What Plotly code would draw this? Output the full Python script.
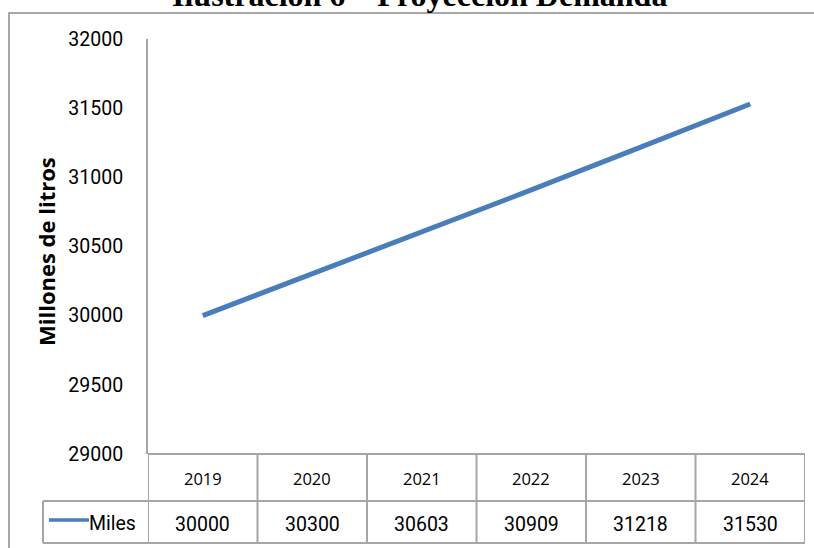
import plotly.graph_objects as go

years = ["2019", "2020", "2021", "2022", "2023", "2024"]
miles = [30000, 30300, 30603, 30909, 31218, 31530]
series_name = "Miles"
y_ticks = [29000, 29500, 30000, 30500, 31000, 31500, 32000]
title_text = "Ilustración 6 – Proyección Demanda"
y_title = "Millones de litros"

W, H = 814, 548
L, R, T, B = 148, 9, 39, 94
PW, PH = W - L - R, H - T - B

def px(x):
    return (x - L) / PW

def py(y):
    return (H - B - y) / PH

GRID = "#a6a6a6"
BLUE = "#4a7ebb"
NUMFONT = "Roboto, sans-serif"

fig = go.Figure()
fig.add_trace(go.Scatter(
    x=years, y=miles, mode="lines", name=series_name,
    line=dict(color=BLUE, width=5), showlegend=False,
))

shapes = []
# outer frame
shapes.append(dict(type="rect", xref="paper", yref="paper",
                   x0=px(9), x1=px(830), y0=py(560), y1=py(13),
                   line=dict(color="#8c8c8c", width=1.5), fillcolor="rgba(0,0,0,0)", layer="below"))
# table horizontal lines
shapes.append(dict(type="line", xref="paper", yref="paper", x0=0, x1=1, y0=0, y1=0,
                   line=dict(color=GRID, width=2)))
shapes.append(dict(type="line", xref="paper", yref="paper", x0=px(43), x1=1, y0=py(501), y1=py(501),
                   line=dict(color=GRID, width=2)))
shapes.append(dict(type="line", xref="paper", yref="paper", x0=px(43), x1=1, y0=py(543), y1=py(543),
                   line=dict(color=GRID, width=2)))
# legend cell left border
shapes.append(dict(type="line", xref="paper", yref="paper", x0=px(43), x1=px(43), y0=py(501), y1=py(543),
                   line=dict(color=GRID, width=2)))
# column dividers
for i in range(len(years) + 1):
    shapes.append(dict(type="line", xref="x", yref="paper", x0=i - 0.5, x1=i - 0.5,
                       y0=0, y1=py(543), line=dict(color=GRID, width=2)))
# legend sample line
shapes.append(dict(type="line", xref="paper", yref="paper", x0=px(49), x1=px(89),
                   y0=py(520), y1=py(520), line=dict(color=BLUE, width=3.5)))

annotations = []
annotations.append(dict(text=title_text, xref="paper", yref="paper", x=px(419), y=py(-5),
                        xanchor="center", yanchor="middle", showarrow=False,
                        font=dict(family="Liberation Serif, Times New Roman, serif", size=32,
                                  color="#000000", weight="bold")))
annotations.append(dict(text=y_title, xref="paper", yref="paper", x=px(46), y=py(252),
                        xanchor="center", yanchor="middle", textangle=-90, showarrow=False,
                        font=dict(family="Open Sans, sans-serif", size=22, color="#000000", weight="bold")))
for i, (yr, v) in enumerate(zip(years, miles)):
    annotations.append(dict(text=yr, xref="x", yref="paper", x=i, y=py(478),
                            xanchor="center", yanchor="middle", showarrow=False,
                            font=dict(family="Open Sans, sans-serif", size=16.5, color="#000000")))
    annotations.append(dict(text=str(v), xref="x", yref="paper", x=i, y=py(524),
                            xanchor="center", yanchor="middle", showarrow=False,
                            font=dict(family=NUMFONT, size=19.5, color="#000000")))
annotations.append(dict(text=series_name, xref="paper", yref="paper", x=px(138), y=py(523),
                        xanchor="right", yanchor="middle", showarrow=False,
                        font=dict(family=NUMFONT, size=19.5, color="#000000")))

fig.update_layout(
    width=W, height=H,
    margin=dict(l=L, r=R, t=T, b=B),
    paper_bgcolor="white", plot_bgcolor="white",
    shapes=shapes, annotations=annotations,
    xaxis=dict(type="category", range=[-0.5, len(years) - 0.5], showticklabels=False,
               showgrid=False, zeroline=False, showline=False, ticks=""),
    yaxis=dict(range=[29000, 32000], tickvals=y_ticks, tickformat="d", showgrid=False,
               zeroline=False, showline=True, linecolor=GRID, linewidth=2, ticks="",
               ticklabelstandoff=19,
               tickfont=dict(family=NUMFONT, size=19.5, color="#000000")),
)

fig.write_html("out.html")
